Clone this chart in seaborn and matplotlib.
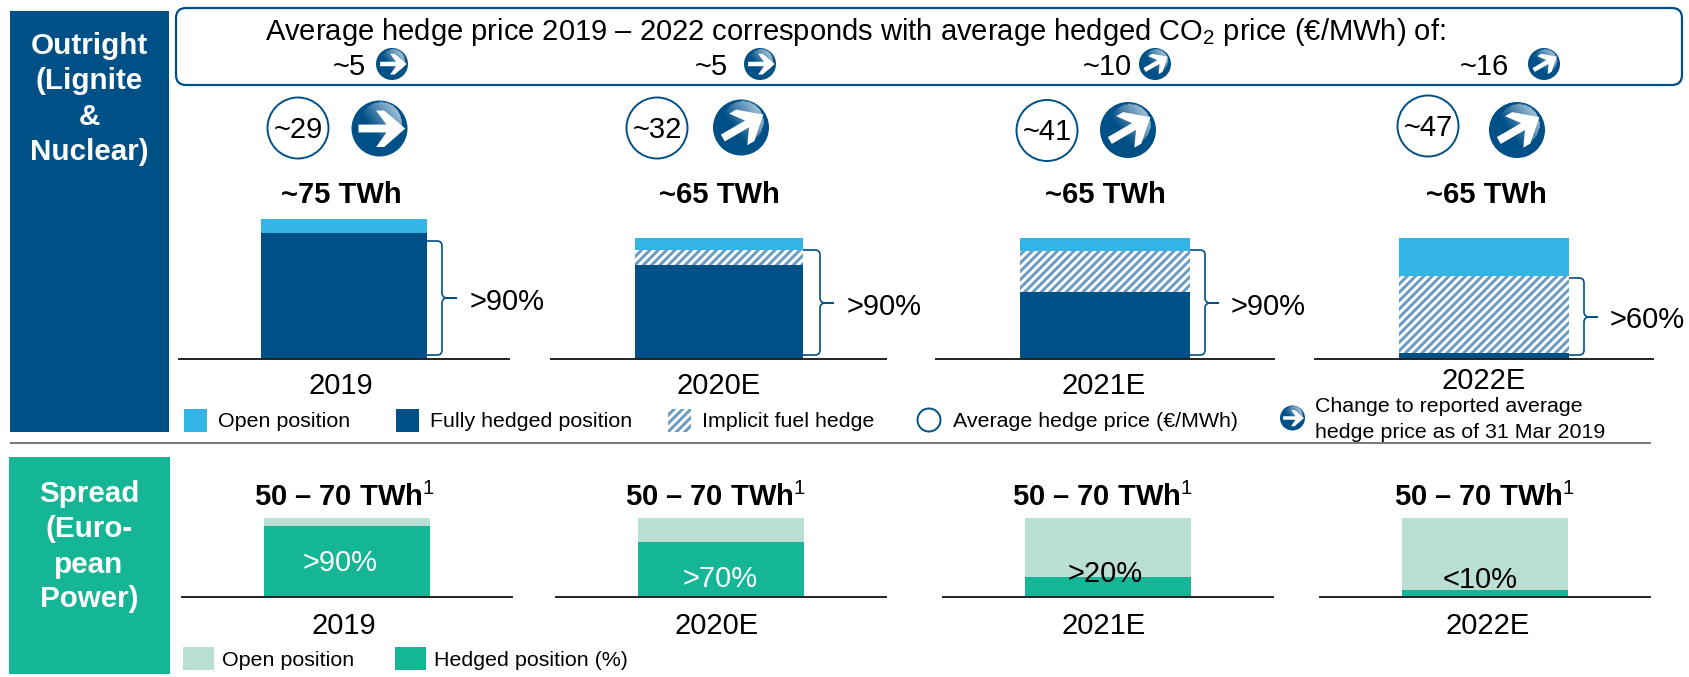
import numpy as np
import matplotlib
matplotlib.use('Agg')
import matplotlib.pyplot as plt
import seaborn as sns
from matplotlib.patches import Circle, FancyBboxPatch, PathPatch, Polygon, Rectangle
from matplotlib.path import Path
from matplotlib.transforms import ScaledTranslation

sns.set_theme(style='white')
plt.rcParams['font.family'] = ['Liberation Sans', 'DejaVu Sans']
plt.rcParams['mathtext.fontset'] = 'custom'
plt.rcParams['mathtext.rm'] = 'Liberation Sans'
plt.rcParams['mathtext.default'] = 'rm'
plt.rcParams['hatch.linewidth'] = 2.1

W, H = 1689, 677
BLUE = '#005088'
SKY = '#32B4E6'
HATCH = '#6A9CC3'
GREEN = '#14B695'
MINT = '#BAE0D5'

# data
years = ['2019', '2020E', '2021E', '2022E']
# outright, TWh
full_hedged = [67.5, 50.5, 36, 3]
implicit = [0, 8, 22, 41.5]
open_pos = [7.5, 6.5, 7, 20.5]
totals = ['~75 TWh', '~65 TWh', '~65 TWh', '~65 TWh']
hedge_price = ['~29', '~32', '~41', '~47']
price_up = [False, True, True, True]
hedge_share = ['>90%', '>90%', '>90%', '>60%']
# CO2 line in the box
co2_price = ['~5', '~5', '~10', '~16']
co2_up = [False, False, True, True]
# spread, % of volume
spread_hedged = [90, 70, 25, 8.5]
spread_labels = ['>90%', '>70%', '>20%', '<10%']
spread_total = '50 – 70 TWh'

# layout in pixels
out_axis = [(179, 509), (551, 886), (936, 1274), (1315, 1653)]
out_bar = [166, 168, 170, 170]
out_base, out_top = 358.7, 205
out_scale = 1.857
out_year_dx = [-3, 0, -1, 0]
out_year_y = [382, 382, 382, 378]
total_x = [341, 719, 1105, 1486]
circle_xy = [(298, 128), (657, 128), (1047, 130.5), (1428, 126)]
icon_xy = [(379.5, 128.5), (741, 127.5), (1128, 130), (1517, 130)]
co2_text_x = [349, 711, 1107, 1484]
co2_icon_x = [392, 760, 1155, 1544]
brace = [(427, 442, 457, 241, 298), (803, 820, 834, 250, 303), (1190, 1205, 1219, 250, 303), (1569, 1584, 1598, 278, 317)]
share_xy = [(507, 300), (884, 305), (1268, 305), (1647, 318)]

spr_axis = [(182, 512), (556, 886), (943, 1273), (1320, 1650)]
spr_bar = [166, 166, 166, 166]
spr_base, spr_top = 596.7, 510
spr_scale = 0.787
spr_year_dx = [-3, -4, -4, 3]
spr_total_x = [344, 715, 1102, 1484]
spr_label_xy = [(340, 561), (720, 577), (1105, 572), (1480, 578)]
spr_label_col = ['white', 'white', 'black', 'black']

FS_TOP = 21
FS = 21
FS_LEG = 15.4
FS_SIDE = 21.3

fig = plt.figure(figsize=(W / 100, H / 100), dpi=100)
bg = fig.add_axes([0, 0, 1, 1])
bg.set_xlim(0, W)
bg.set_ylim(H, 0)
bg.axis('off')


def label(x, y, txt, size=FS, ha='center', color='black', weight='normal'):
    # va center sits a bit high with this font, hence the +2
    return bg.text(x, y + 2, txt, fontsize=size, ha=ha, va='center', color=color, fontweight=weight)


def icon(cx, cy, r, up):
    # round blue button with shaded corner and white arrow
    disc = Circle((cx, cy), r, fc=BLUE, ec='none', zorder=3)
    bg.add_patch(disc)
    yy, xx = np.mgrid[-1:1:64j, -1:1:64j]
    inside = (xx - 0.08) ** 2 + (yy + 0.2) ** 2 < 0.74 ** 2
    shade = np.clip((xx * 0.7 - yy * 0.5 + 0.2) * 1.0, 0, 1) * inside
    rgba = np.zeros((64, 64, 4))
    rgba[..., :3] = (0.64, 0.76, 0.85)
    rgba[..., 3] = shade
    im = bg.imshow(rgba, extent=(cx - r, cx + r, cy + r, cy - r), zorder=4, aspect='auto', interpolation='bilinear')
    im.set_clip_path(disc)
    bg.set_xlim(0, W)
    bg.set_ylim(H, 0)
    # arrow pointing right, turned for the up case
    pts = np.array([(-0.75, -0.14), (0.25, -0.14), (-0.12, -0.64), (0.17, -0.64),
                    (0.92, 0), (0.17, 0.66), (-0.12, 0.66), (0.25, 0.14), (-0.75, 0.14)])
    if up:
        a = np.deg2rad(-30)
        rot = np.array([[np.cos(a), -np.sin(a)], [np.sin(a), np.cos(a)]])
        pts = pts @ rot.T
    bg.add_patch(Polygon(pts * r + (cx, cy), fc='white', ec='none', zorder=5))


def curly(x0, x1, tip, top, mid, bottom):
    c = 5
    verts = [(x0, top), (x1 - c, top), (x1, top), (x1, top + c),
             (x1, mid - c), (x1, mid - 1), (x1 + 4, mid), (tip, mid), (x1 + 4, mid), (x1, mid + 1), (x1, mid + c),
             (x1, bottom - c), (x1, bottom), (x1 - c, bottom), (x0, bottom)]
    codes = [Path.MOVETO, Path.LINETO, Path.CURVE3, Path.CURVE3,
             Path.LINETO, Path.CURVE3, Path.CURVE3, Path.LINETO, Path.LINETO, Path.CURVE3, Path.CURVE3,
             Path.LINETO, Path.CURVE3, Path.CURVE3, Path.LINETO]
    bg.add_patch(PathPatch(Path(verts, codes), fc='none', ec=BLUE, lw=1.2, zorder=3))


def bar_axes(span, base, top):
    ax = fig.add_axes([span[0] / W, 1 - base / H, (span[1] - span[0]) / W, (base - top) / H])
    ax.patch.set_alpha(0)
    sns.despine(ax=ax, left=True)
    ax.spines['bottom'].set_color('#222222')
    ax.spines['bottom'].set_linewidth(1.4)
    return ax


def finish_axes(ax, ymax, pad, dx):
    ax.set_xlim(-0.5, 0.5)
    ax.set_ylim(0, ymax)
    ax.set_yticks([])
    ax.set_xlabel('')
    ax.set_ylabel('')
    ax.tick_params(axis='x', length=0, pad=pad, labelsize=FS, labelcolor='black')
    for lab in ax.get_xticklabels():
        lab.set_transform(lab.get_transform() + ScaledTranslation(dx / 100, 0, fig.dpi_scale_trans))


# side panels
bg.add_patch(Rectangle((10, 11), 159, 421, fc=BLUE, ec='none'))
bg.add_patch(Rectangle((9, 457), 161, 217, fc=GREEN, ec='none'))
for txt, y in zip(['Outright', '(Lignite', '&', 'Nuclear)'], [44, 79, 115, 150]):
    label(89, y, txt, FS_SIDE, color='white', weight='bold')
for txt, y in zip(['Spread', '(Euro-', 'pean', 'Power)'], [492, 527, 563, 597]):
    label(89, y, txt, FS_SIDE, color='white', weight='bold')

# top box
bg.add_patch(FancyBboxPatch((176, 8), 1506, 77, boxstyle='round,pad=0,rounding_size=10',
                            fc='white', ec=BLUE, lw=1.6))
label(855, 30, 'Average hedge price 2019 – 2022 corresponds with average hedged CO$_2$ price (€/MWh) of:', FS_TOP)
for i in range(4):
    label(co2_text_x[i], 65, co2_price[i], FS_TOP)
    icon(co2_icon_x[i], 64, 16, co2_up[i])

# outright bars
for i, year in enumerate(years):
    ax = bar_axes(out_axis[i], out_base, out_top)
    w = out_bar[i] / (out_axis[i][1] - out_axis[i][0])
    sns.barplot(x=[year], y=[open_pos[i]], bottom=full_hedged[i] + implicit[i], color=SKY, saturation=1,
                width=w, linewidth=0, ax=ax)
    if implicit[i] > 0:
        sns.barplot(x=[year], y=[implicit[i]], bottom=full_hedged[i], color='white', saturation=1,
                    width=w, linewidth=0, edgecolor=HATCH, hatch='////', ax=ax)
    sns.barplot(x=[year], y=[full_hedged[i]], color=BLUE, saturation=1, width=w, linewidth=0, ax=ax)
    finish_axes(ax, (out_base - out_top) / out_scale, out_year_y[i] - out_base - 13.5, out_year_dx[i])

    label(total_x[i], 193, totals[i], weight='bold')
    cx, cy = circle_xy[i]
    bg.add_patch(Circle((cx, cy), 30.5, fc='white', ec=BLUE, lw=1.4))
    label(cx, cy, hedge_price[i])
    icon(icon_xy[i][0], icon_xy[i][1], 28, price_up[i])
    x0, x1, tip, top, mid = brace[i]
    curly(x0, x1, tip, top, mid, 355)
    label(share_xy[i][0], share_xy[i][1], hedge_share[i])

# outright legend
bg.add_patch(Rectangle((184, 409), 23, 23, fc=SKY, ec='none'))
label(218, 419.5, 'Open position', FS_LEG, ha='left')
bg.add_patch(Rectangle((396, 409), 23, 23, fc=BLUE, ec='none'))
label(430, 419.5, 'Fully hedged position', FS_LEG, ha='left')
bg.add_patch(Rectangle((668, 409), 23, 23, fc='white', ec=HATCH, lw=0, hatch='////'))
label(702, 419.5, 'Implicit fuel hedge', FS_LEG, ha='left')
bg.add_patch(Circle((929, 420), 11.5, fc='white', ec=BLUE, lw=1.4))
label(953, 419.5, 'Average hedge price (€/MWh)', FS_LEG, ha='left')
icon(1292.5, 418, 12.5, False)
label(1315.5, 405, 'Change to reported average', FS_LEG, ha='left')
label(1315.5, 431, 'hedge price as of 31 Mar 2019', FS_LEG, ha='left')

# separator
bg.plot([10, 1651], [443, 443], color='#777777', lw=1.4, solid_capstyle='butt')

# spread bars
for i, year in enumerate(years):
    ax = bar_axes(spr_axis[i], spr_base, spr_top)
    w = spr_bar[i] / (spr_axis[i][1] - spr_axis[i][0])
    sns.barplot(x=[year], y=[100 - spread_hedged[i]], bottom=spread_hedged[i], color=MINT, saturation=1,
                width=w, linewidth=0, ax=ax)
    sns.barplot(x=[year], y=[spread_hedged[i]], color=GREEN, saturation=1, width=w, linewidth=0, ax=ax)
    finish_axes(ax, (spr_base - spr_top) / spr_scale, 622 - spr_base - 14.5, spr_year_dx[i])

    label(spr_total_x[i], 495, spread_total + '$^{1}$', weight='bold')
    # on the figure so it stays above the bar axes
    fig.text(spr_label_xy[i][0] / W, 1 - (spr_label_xy[i][1] + 2) / H, spread_labels[i], fontsize=FS,
             ha='center', va='center', color=spr_label_col[i], zorder=10)

# spread legend
bg.add_patch(Rectangle((183, 647), 31, 23, fc=MINT, ec='none'))
label(222, 658.5, 'Open position', FS_LEG, ha='left')
bg.add_patch(Rectangle((395, 647), 31, 23, fc=GREEN, ec='none'))
label(434, 658.5, 'Hedged position (%)', FS_LEG, ha='left')

fig.savefig('out.png', dpi=100)
